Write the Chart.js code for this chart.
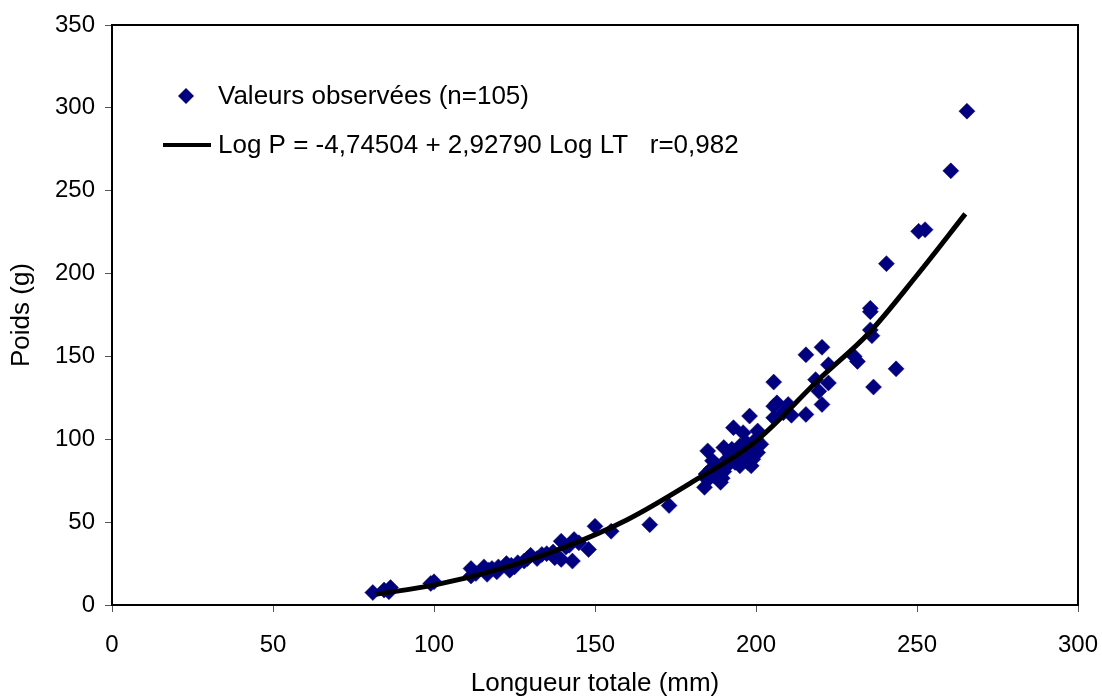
<!DOCTYPE html>
<html>
<head>
<meta charset="utf-8">
<script src="https://cdn.jsdelivr.net/npm/chart.js@4/dist/chart.umd.min.js"></script>
<style>
  html, body { margin: 0; padding: 0; background: #fff; }
</style>
</head>
<body>
<canvas id="chartPoids" width="1102" height="700"></canvas>
<script>
// longueur totale (mm) / poids (g)
const longueurs = [
  81, 84.5, 86.5, 86, 100, 99, 111.5, 111.5, 113, 115.5,
  116.5, 118, 119.5, 120, 122.5, 123.5, 125, 126, 128, 129,
  130, 132, 133.5, 135, 137, 137.5, 139.5, 139.5, 141, 143,
  143.5, 145, 148, 150, 155, 167, 173, 184, 185, 185,
  186, 186.5, 187, 188, 189, 189.5, 190, 190, 191, 191.5,
  192, 192.5, 193, 193.5, 194, 195, 195, 196, 196, 197,
  197.5, 198, 198, 199, 199.5, 200, 200.5, 200.5, 201.5, 205.5,
  205.5, 205.5, 206.5, 208.5, 210, 211, 215.5, 215.5, 218.5, 219.5,
  220.5, 220.5, 222.5, 222.5, 230.5, 231.5, 235.5, 235.5, 235.5, 236,
  236.5, 243.5, 240.5, 250.5, 252.5, 260.5, 265.5, 187.5, 194.5, 196.5,
  184.5, 198.5, 117, 124, 142,
];
const poids = [
  7.5, 9, 10.5, 8, 14, 13, 22, 17.5, 19, 23,
  18.5, 22, 20, 23, 25, 21, 23, 25.5, 26.5, 28,
  30, 28, 30.5, 31, 32, 28.5, 27.5, 38.5, 35, 26.5,
  39.5, 37.5, 33.5, 47.5, 44.5, 48.5, 60, 71, 75.5, 93,
  82, 87, 78, 84, 74, 76.5, 80.5, 95, 88, 85,
  91, 94, 107, 86, 89, 96, 84, 104, 87, 98,
  86, 114, 90, 88, 94, 100, 92, 105, 97, 134.5,
  113, 120, 122, 116, 121, 114.5, 151, 115, 136, 129,
  155.5, 121, 145, 134, 150, 147, 179, 177, 166, 162.5,
  131.5, 142.5, 206, 225.5, 226.5, 262, 298, 80, 92, 93,
  79, 84, 21, 24, 36,
];

// courbe ajustée
const courbeX = [82, 100, 120, 140, 160, 180, 200, 220, 235, 250, 265];
const courbeY = [6.5, 12, 21.5, 34.5, 51.5, 74, 99, 137, 164, 199, 236];

const xTicks = [0, 50, 100, 150, 200, 250, 300];
const yTicks = [0, 50, 100, 150, 200, 250, 300, 350];

const legendeLabels = [
  'Valeurs observées (n=105)',
  'Log P = -4,74504 + 2,92790 Log LT   r=0,982',
];

const FONT = "'Liberation Sans', Arial, sans-serif";
const BLEU = '#000080';

const observations = longueurs.map((x, i) => ({ x, y: poids[i] }));
const courbe = courbeX.map((x, i) => ({ x, y: courbeY[i] }));

const cadre = {
  id: 'cadre',
  afterDatasetsDraw(chart) {
    const { ctx, chartArea } = chart;
    ctx.save();
    ctx.strokeStyle = '#000';
    ctx.lineWidth = 2;
    ctx.beginPath();
    ctx.moveTo(chartArea.left, chartArea.top);
    ctx.lineTo(chartArea.right, chartArea.top);
    ctx.lineTo(chartArea.right, chartArea.bottom);
    ctx.stroke();
    ctx.restore();
  },
};

const legende = {
  id: 'legende',
  afterDraw(chart) {
    const { ctx } = chart;
    ctx.save();
    ctx.font = `26px ${FONT}`;
    ctx.textBaseline = 'middle';
    ctx.textAlign = 'left';

    // diamant
    ctx.fillStyle = BLEU;
    ctx.beginPath();
    ctx.moveTo(186, 88);
    ctx.lineTo(194, 96);
    ctx.lineTo(186, 104);
    ctx.lineTo(178, 96);
    ctx.closePath();
    ctx.fill();

    ctx.fillStyle = '#000';
    ctx.fillText(legendeLabels[0], 218, 97);

    ctx.strokeStyle = '#000';
    ctx.lineWidth = 4;
    ctx.beginPath();
    ctx.moveTo(163, 145);
    ctx.lineTo(211, 145);
    ctx.stroke();
    ctx.fillText(legendeLabels[1], 218, 146);
    ctx.restore();
  },
};

const ctx = document.getElementById('chartPoids').getContext('2d');

new Chart(ctx, {
  type: 'scatter',
  data: {
    datasets: [
      {
        label: legendeLabels[1],
        type: 'line',
        data: courbe,
        borderColor: '#000',
        borderWidth: 5,
        pointRadius: 0,
        fill: false,
        cubicInterpolationMode: 'monotone',
        order: 0,
      },
      {
        label: legendeLabels[0],
        data: observations,
        pointStyle: 'rectRot',
        pointRadius: 8,
        backgroundColor: BLEU,
        borderColor: BLEU,
        borderWidth: 0.5,
        order: 1,
      },
    ],
  },
  options: {
    responsive: false,
    animation: false,
    layout: {
      padding: { top: 25, right: 24, left: 0, bottom: 0 },
    },
    plugins: {
      legend: { display: false },
      tooltip: { enabled: false },
    },
    scales: {
      x: {
        type: 'linear',
        min: 0,
        max: 300,
        afterFit(scale) {
          scale.height = 95;
          scale.paddingLeft = 0;
          scale.paddingRight = 0;
        },
        afterBuildTicks(scale) { scale.ticks = xTicks.map((v) => ({ value: v })); },
        grid: {
          drawOnChartArea: false,
          drawTicks: true,
          tickLength: 7,
          color: '#555',
        },
        border: { display: true, color: '#000', width: 2 },
        ticks: {
          padding: 19,
          color: '#000',
          font: { family: FONT, size: 24 },
        },
        title: {
          display: true,
          text: 'Longueur totale (mm)',
          color: '#000',
          font: { family: FONT, size: 26 },
          padding: { top: 0, bottom: 1 },
        },
      },
      y: {
        type: 'linear',
        min: 0,
        max: 350,
        afterFit(scale) {
          scale.width = 112;
          scale.paddingTop = 0;
          scale.paddingBottom = 0;
        },
        afterBuildTicks(scale) { scale.ticks = yTicks.map((v) => ({ value: v })); },
        grid: {
          drawOnChartArea: false,
          drawTicks: true,
          tickLength: 7,
          color: '#555',
        },
        border: { display: true, color: '#000', width: 2 },
        ticks: {
          padding: 10,
          color: '#000',
          font: { family: FONT, size: 24 },
        },
        title: {
          display: true,
          text: 'Poids (g)',
          color: '#000',
          font: { family: FONT, size: 26 },
          padding: { top: 6, bottom: 0 },
        },
      },
    },
  },
  plugins: [cadre, legende],
});
</script>
</body>
</html>
